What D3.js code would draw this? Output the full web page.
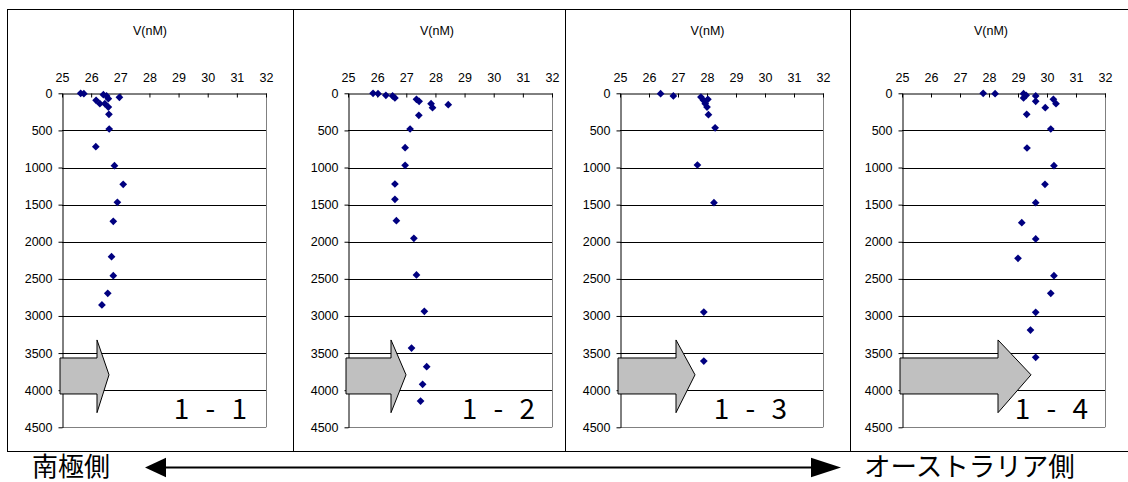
<!DOCTYPE html>
<html><head><meta charset="utf-8">
<script src="https://cdn.jsdelivr.net/npm/d3@7"></script>
<style>
html,body{margin:0;padding:0;background:#fff;}
svg{display:block;}
</style></head>
<body>
<svg id="chart" width="1128" height="482"></svg>
<script>
// ---------- data ----------
const panelLabels = ["1 - 1", "1 - 2", "1 - 3", "1 - 4"];
const axisTitle = "V(nM)";
const xTicks = [25, 26, 27, 28, 29, 30, 31, 32];
const yTicks = [0, 500, 1000, 1500, 2000, 2500, 3000, 3500, 4000, 4500];

const v11 = [25.64, 25.75, 26.42, 26.53, 26.59, 26.97, 26.17, 26.30, 26.47, 26.59, 26.61, 26.62, 26.16, 26.80, 27.10, 26.90, 26.76, 26.70, 26.76, 26.57, 26.37];
const d11 = [0, 5, 19, 36, 73, 54, 95, 140, 140, 185, 283, 481, 719, 975, 1226, 1469, 1725, 2201, 2457, 2695, 2852];

const v12 = [25.86, 26.03, 26.30, 26.53, 26.61, 27.35, 27.44, 27.85, 27.90, 28.44, 27.43, 27.13, 26.96, 26.96, 26.61, 26.61, 26.66, 27.26, 27.35, 27.62, 27.18, 27.70, 27.56, 27.49];
const d12 = [0, 5, 27, 36, 63, 81, 108, 140, 194, 154, 297, 481, 733, 970, 1222, 1428, 1716, 1954, 2448, 2938, 3432, 3683, 3921, 4146];

const v13 = [26.40, 26.84, 27.79, 27.88, 28.03, 27.94, 28.00, 28.05, 28.28, 27.67, 28.24, 27.89, 27.89];
const d13 = [5, 36, 50, 95, 81, 140, 185, 288, 465, 966, 1474, 2948, 3608];

const v14 = [27.80, 28.21, 29.19, 29.28, 29.19, 29.61, 29.61, 29.94, 30.22, 30.31, 29.30, 30.13, 29.31, 30.24, 29.93, 29.61, 29.13, 29.61, 29.00, 30.24, 30.13, 29.61, 29.43, 29.61];
const d14 = [0, 5, 5, 27, 63, 36, 108, 194, 81, 140, 283, 481, 737, 975, 1226, 1474, 1743, 1963, 2224, 2457, 2695, 2951, 3190, 3557];

const seriesV = [v11, v12, v13, v14];
const seriesD = [d11, d12, d13, d14];

const leftLabel = "南極側";
const rightLabel = "オーストラリア側";

// ---------- layout ----------
const boxes = [[7, 293], [293, 565], [565, 850], [850, 1132]];
const plots = [[62, 266], [348, 552], [620, 823], [902, 1105]];
const plotTop = 93.3, plotBottom = 427.3;
const boxTop = 9, boxBottom = 451;
const labelGap = [19, 17, 36, 17];
const titleShift = [0, 8, 0, 0];
// block arrow: body right / tip, in px from plot left
const arrowBody = [35, 43, 56, 96];
const arrowTip = [47, 58, 75, 129];

const svg = d3.select("#chart");
const tickFont = "Liberation Sans, Arial, sans-serif";
const tickSize = 12.5;

seriesV.forEach((vals, i) => {
  const [bx0, bx1] = boxes[i];
  const [px0, px1] = plots[i];
  const g = svg.append("g");

  g.append("rect").attr("x", bx0 + 0.5).attr("y", boxTop + 0.5)
    .attr("width", bx1 - bx0).attr("height", boxBottom - boxTop)
    .attr("fill", "#fff").attr("stroke", "#000").attr("stroke-width", 1);

  const x = d3.scaleLinear().domain([25, 32]).range([px0, px1]);
  const y = d3.scaleLinear().domain([0, 4500]).range([plotTop, plotBottom]);

  // gridlines
  g.selectAll(".grid").data(yTicks.filter(t => t > 0 && t < 4500)).enter().append("line")
    .attr("x1", px0).attr("x2", px1)
    .attr("y1", d => Math.round(y(d)) + 0.5).attr("y2", d => Math.round(y(d)) + 0.5)
    .attr("stroke", "#000").attr("stroke-width", 1);
  // plot border right + bottom (gray)
  g.append("line").attr("x1", Math.round(px1) + 0.5).attr("x2", Math.round(px1) + 0.5)
    .attr("y1", plotTop).attr("y2", plotBottom).attr("stroke", "#808080");
  g.append("line").attr("x1", px0).attr("x2", px1)
    .attr("y1", Math.round(plotBottom) + 0.5).attr("y2", Math.round(plotBottom) + 0.5)
    .attr("stroke", "#808080");

  // top axis
  const xAxis = d3.axisTop(x).tickValues(xTicks).tickFormat(d3.format("d"))
    .tickSizeInner(-4).tickSizeOuter(0).tickPadding(12);
  const xa = g.append("g").attr("transform", `translate(0,${Math.round(plotTop) + 0.5})`).call(xAxis);
  xa.select(".domain").attr("stroke", "#000");
  xa.selectAll(".tick line").attr("stroke", "#000");
  xa.selectAll(".tick text").attr("font-family", tickFont).attr("font-size", tickSize).attr("fill", "#000");

  // left axis
  const yAxis = d3.axisLeft(y).tickValues(yTicks).tickFormat(d3.format("d"))
    .tickSizeInner(4).tickSizeOuter(0).tickPadding(6);
  const ya = g.append("g").attr("transform", `translate(${Math.round(px0) + 0.5},0)`).call(yAxis);
  ya.select(".domain").attr("stroke", "#000");
  ya.selectAll(".tick line").attr("stroke", "#000");
  ya.selectAll(".tick text").attr("font-family", tickFont).attr("font-size", tickSize).attr("fill", "#000");

  // title
  g.append("text").attr("x", (bx0 + bx1) / 2 + titleShift[i]).attr("y", 35)
    .attr("text-anchor", "middle").attr("font-family", tickFont).attr("font-size", tickSize)
    .text(axisTitle);

  // block arrow
  const yb0 = y(3566), yb1 = y(4051), yh0 = y(3323), yh1 = y(4303), ym = y(3793);
  const ax0 = px0 - 2, ab = px0 + arrowBody[i], at = px0 + arrowTip[i];
  g.append("path")
    .attr("d", `M${ax0},${yb0}L${ab},${yb0}L${ab},${yh0}L${at},${ym}L${ab},${yh1}L${ab},${yb1}L${ax0},${yb1}Z`)
    .attr("fill", "#c0c0c0").attr("stroke", "#000").attr("stroke-width", 1);

  // points
  const pts = vals.map((v, k) => ({ v, d: seriesD[i][k] }));
  const sym = d3.symbol().type(d3.symbolSquare).size(30);
  g.selectAll(".pt").data(pts).enter().append("path")
    .attr("d", sym)
    .attr("transform", p => `translate(${x(p.v)},${y(p.d)}) rotate(45)`)
    .attr("fill", "#000080");

  // panel label
  g.append("text").attr("x", px1 - labelGap[i] + 5).attr("y", 419)
    .attr("text-anchor", "end").attr("font-family", "Noto Sans CJK JP, sans-serif")
    .attr("font-size", 28).attr("letter-spacing", 5).attr("fill", "#000")
    .text(panelLabels[i]);
});

// bottom direction labels and double arrow
svg.append("text").attr("x", 32).attr("y", 464).attr("dominant-baseline", "central")
  .attr("font-family", "Noto Sans CJK JP, sans-serif").attr("font-size", 26).text(leftLabel);
svg.append("text").attr("x", 864).attr("y", 464).attr("dominant-baseline", "central")
  .attr("font-family", "Noto Sans CJK JP, sans-serif").attr("font-size", 26.5).text(rightLabel);

svg.append("line").attr("x1", 160).attr("x2", 815).attr("y1", 467.5).attr("y2", 467.5)
  .attr("stroke", "#000").attr("stroke-width", 2);
svg.append("path").attr("d", "M145,467.5L166,457.7L166,477.3Z").attr("fill", "#000");
svg.append("path").attr("d", "M841,467.5L811,457.7L811,477.3Z").attr("fill", "#000");
</script>
</body></html>
